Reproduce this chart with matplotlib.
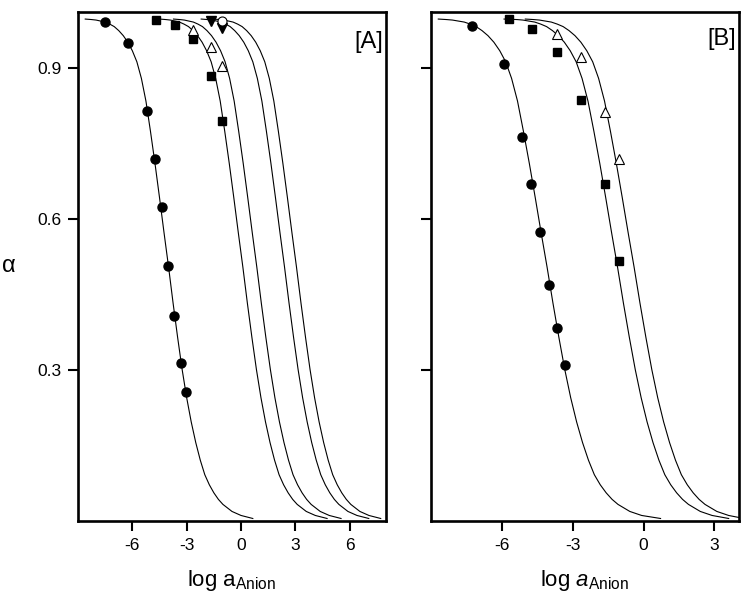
import numpy as np
import matplotlib
matplotlib.use("Agg")
import matplotlib.pyplot as plt

plt.rcParams["font.family"] = ["Liberation Sans", "DejaVu Sans"]
plt.rcParams["mathtext.fontset"] = "custom"
plt.rcParams["mathtext.rm"] = "Liberation Sans"
plt.rcParams["mathtext.it"] = "Liberation Sans:italic"
plt.rcParams["axes.unicode_minus"] = False

# alpha levels shared by all fitted curves
alpha_levels = [0.998, 0.997, 0.996, 0.994, 0.992, 0.988, 0.983, 0.975, 0.965, 0.952,
                0.935, 0.913, 0.880, 0.835, 0.775, 0.711, 0.643, 0.573, 0.505, 0.433,
                0.365, 0.301, 0.245, 0.197, 0.156, 0.121, 0.092, 0.072, 0.056, 0.043,
                0.033, 0.019, 0.011, 0.005]

# panel [A] curves: log a at each alpha level
curveA1_x = [-8.6, -8.25, -8.0, -7.75, -7.5, -7.25, -7.0, -6.75, -6.5, -6.25,
             -6.0, -5.75, -5.5, -5.25, -5.0, -4.75, -4.5, -4.25, -4.0, -3.75,
             -3.5, -3.25, -3.0, -2.75, -2.5, -2.25, -2.0, -1.75, -1.5, -1.25,
             -1.0, -0.5, 0.0, 0.65]
curveA2_x = [-4.5, -4.15, -3.9, -3.65, -3.4, -3.15, -2.9, -2.65, -2.4, -2.15,
             -1.9, -1.65, -1.4, -1.15, -0.9, -0.65, -0.4, -0.15, 0.1, 0.35,
             0.6, 0.85, 1.1, 1.35, 1.6, 1.85, 2.1, 2.35, 2.6, 2.85,
             3.1, 3.6, 4.1, 4.75]
curveA3_x = [-3.73, -3.38, -3.13, -2.88, -2.63, -2.38, -2.13, -1.88, -1.63, -1.38,
             -1.13, -0.88, -0.63, -0.38, -0.13, 0.12, 0.37, 0.62, 0.87, 1.12,
             1.37, 1.62, 1.87, 2.12, 2.37, 2.62, 2.87, 3.12, 3.37, 3.62,
             3.87, 4.37, 4.87, 5.52]
curveA4_x = [-2.2, -1.85, -1.6, -1.35, -1.1, -0.85, -0.6, -0.35, -0.1, 0.15,
             0.4, 0.65, 0.9, 1.15, 1.4, 1.65, 1.9, 2.15, 2.4, 2.65,
             2.9, 3.15, 3.4, 3.65, 3.9, 4.15, 4.4, 4.65, 4.9, 5.15,
             5.4, 5.9, 6.4, 7.05]
curveA5_x = [-1.54, -1.19, -0.94, -0.69, -0.44, -0.19, 0.06, 0.31, 0.56, 0.81,
             1.06, 1.31, 1.56, 1.81, 2.06, 2.31, 2.56, 2.81, 3.06, 3.31,
             3.56, 3.81, 4.06, 4.31, 4.56, 4.81, 5.06, 5.31, 5.56, 5.81,
             6.06, 6.56, 7.06, 7.71]

# panel [B] curves
curveB1_x = [-8.68, -8.33, -8.08, -7.83, -7.58, -7.33, -7.08, -6.83, -6.58, -6.33,
             -6.08, -5.83, -5.58, -5.33, -5.08, -4.83, -4.58, -4.33, -4.08, -3.83,
             -3.58, -3.33, -3.08, -2.83, -2.58, -2.33, -2.08, -1.83, -1.58, -1.33,
             -1.08, -0.58, -0.08, 0.72]
curveB2_x = [-5.9, -5.35, -5.1, -4.85, -4.6, -4.35, -4.1, -3.85, -3.6, -3.35,
             -3.1, -2.85, -2.6, -2.35, -2.1, -1.85, -1.6, -1.35, -1.1, -0.85,
             -0.6, -0.35, -0.1, 0.15, 0.4, 0.65, 0.9, 1.15, 1.4, 1.65,
             1.9, 2.4, 2.9, 3.6]
curveB3_x = [-5.0, -4.65, -4.4, -4.15, -3.9, -3.65, -3.4, -3.15, -2.9, -2.65,
             -2.4, -2.15, -1.9, -1.65, -1.4, -1.15, -0.9, -0.65, -0.4, -0.15,
             0.1, 0.35, 0.6, 0.85, 1.1, 1.35, 1.6, 1.85, 2.1, 2.35,
             2.6, 3.1, 3.6, 4.25]

# panel [A] measured points
A_circ_x = [-7.51, -6.23, -5.20, -4.75, -4.39, -4.01, -3.70, -3.33, -3.06]
A_circ_y = [0.992, 0.950, 0.816, 0.719, 0.624, 0.508, 0.407, 0.314, 0.257]
A_sq_x = [-4.71, -3.65, -2.65, -1.64, -1.04]
A_sq_y = [0.996, 0.987, 0.958, 0.885, 0.796]
A_tri_x = [-2.65, -1.68, -1.04]
A_tri_y = [0.976, 0.943, 0.905]
A_itri_x = [-1.64, -1.04]
A_itri_y = [0.994, 0.981]
A_ocirc_x = [-1.04]
A_ocirc_y = [0.994]

# panel [B] measured points
B_circ_x = [-7.25, -5.92, -5.14, -4.74, -4.37, -4.00, -3.68, -3.34]
B_circ_y = [0.984, 0.908, 0.764, 0.670, 0.575, 0.469, 0.383, 0.311]
B_sq_x = [-5.71, -4.71, -3.66, -2.66, -1.65, -1.05]
B_sq_y = [0.998, 0.978, 0.932, 0.837, 0.671, 0.517]
B_tri_x = [-3.66, -2.66, -1.65, -1.03]
B_tri_y = [0.969, 0.922, 0.813, 0.719]

fig = plt.figure(figsize=(7.47, 6.09), dpi=100)
axA = fig.add_axes([0.1044, 0.1445, 0.4123, 0.8366])
axB = fig.add_axes([0.5766, 0.1445, 0.4131, 0.8366])

lw = 0.8
for cx in [curveA1_x, curveA2_x, curveA3_x, curveA4_x, curveA5_x]:
  axA.plot(cx, alpha_levels, "k-", lw=lw)
for cx in [curveB1_x, curveB2_x, curveB3_x]:
  axB.plot(cx, alpha_levels, "k-", lw=lw)

axA.plot(A_circ_x, A_circ_y, "o", color="k", ms=6.5, ls="none")
axA.plot(A_sq_x, A_sq_y, "s", color="k", ms=5.8, ls="none")
axA.plot(A_tri_x, A_tri_y, "^", mfc="white", mec="k", mew=0.8, ms=7.5, ls="none")
axA.plot(A_itri_x, A_itri_y, "v", color="k", ms=7, ls="none")
axA.plot(A_ocirc_x, A_ocirc_y, "o", mfc="white", mec="k", mew=0.8, ms=6.5, ls="none")

axB.plot(B_circ_x, B_circ_y, "o", color="k", ms=6.5, ls="none")
axB.plot(B_sq_x, B_sq_y, "s", color="k", ms=5.8, ls="none")
axB.plot(B_tri_x, B_tri_y, "^", mfc="white", mec="k", mew=0.8, ms=7.5, ls="none")

axA.set_xlim(-9, 8)
axB.set_xlim(-9, 4.05)
axA.set_xticks([-6, -3, 0, 3, 6])
axB.set_xticks([-6, -3, 0, 3])

for ax in [axA, axB]:
  ax.set_ylim(0, 1.013)
  ax.set_yticks([0.3, 0.6, 0.9])
  for s in ax.spines.values():
    s.set_linewidth(1.9)
  ax.tick_params(direction="out", length=7, width=1.5, labelsize=12.5, pad=5)
  ax.xaxis.set_ticks_position("bottom")
  ax.yaxis.set_ticks_position("left")

axA.set_yticklabels(["0.3", "0.6", "0.9"])
axB.set_yticklabels([])

axA.set_xlabel(r"log a$_{\mathregular{Anion}}$", fontsize=16, labelpad=11)
axB.set_xlabel(r"log $\mathit{a}_{\mathregular{Anion}}$", fontsize=16, labelpad=11)
axA.set_ylabel("α", fontsize=17, labelpad=20, rotation=0, va="center")

axA.text(0.99, 0.962, "[A]", transform=axA.transAxes, ha="right", va="top", fontsize=17)
axB.text(0.99, 0.968, "[B]", transform=axB.transAxes, ha="right", va="top", fontsize=17)

fig.savefig("out.png", dpi=100)
